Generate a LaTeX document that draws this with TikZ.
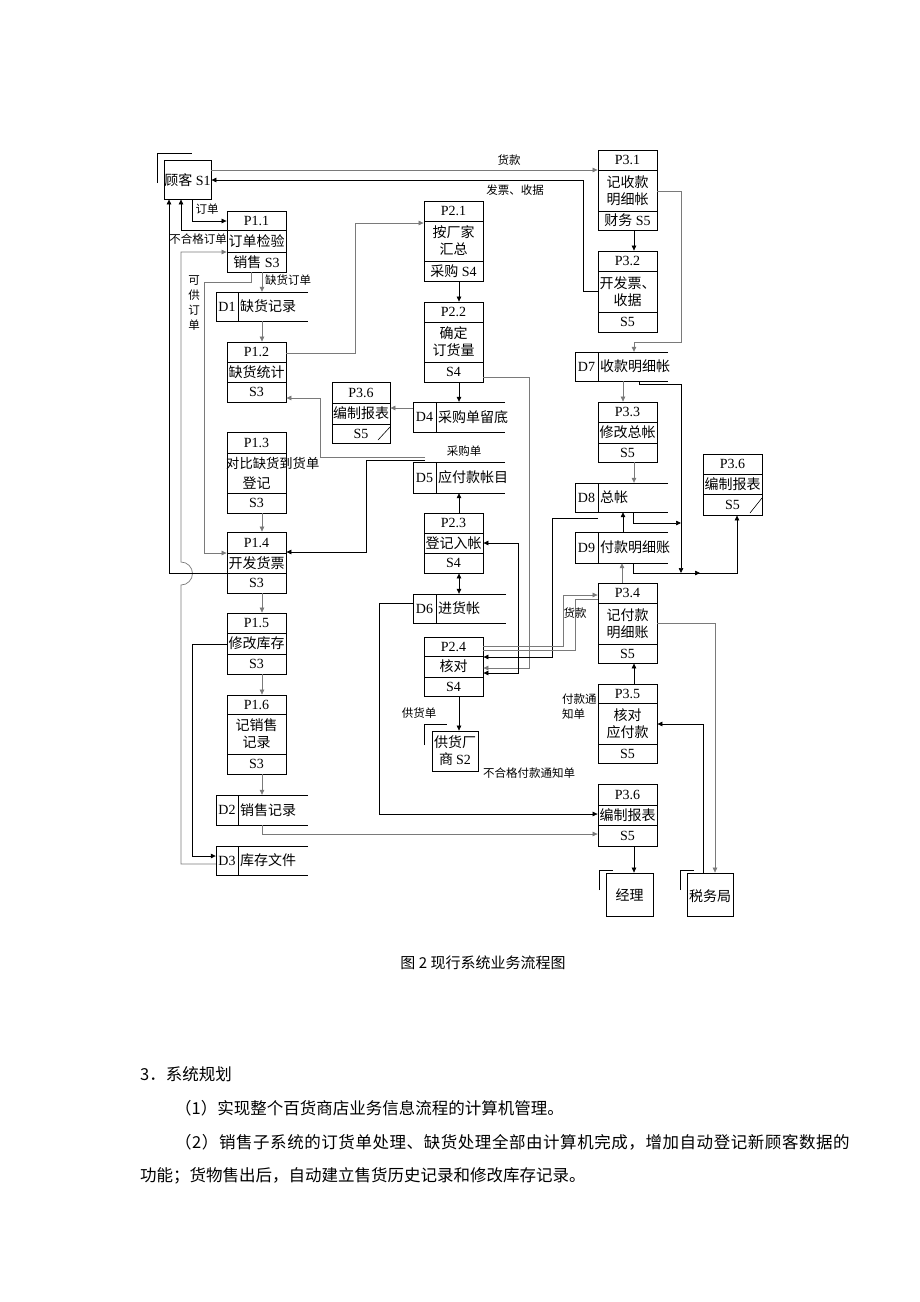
\documentclass[tikz,border=0pt]{standalone}
\usepackage{fontspec}
\setmainfont{Liberation Serif}
\newfontfamily\cjk{Noto Sans CJK SC}
\newfontfamily\cjkwide{Noto Sans CJK SC}[LetterSpace=3.4]
\usetikzlibrary{arrows.meta,fit}
\definecolor{gline}{HTML}{7A7A7A}
\newcommand\pbox[7]{%
  \gdef\pbn{#1}\gdef\pbxa{#2}\gdef\pbya{#3}\gdef\pbxb{#4}\gdef\pbyb{#5}\gdef\pbda{#6}\gdef\pbdb{#7}%
  \node[box,fit={(#2,#3)(#4,#5)}] (#1) {};
  \draw[line width=0.8pt] (#2,#6)--(#4,#6) (#2,#7)--(#4,#7);}
\newcommand\ptxt[3]{%
  \node[lat] (\pbn-a) at ({(\pbxa+\pbxb)/2},{(\pbya+\pbda)/2}) {#1};
  \node[txt] (\pbn-b) at ({(\pbxa+\pbxb)/2},{(\pbda+\pbdb)/2}) {#2};
  \node[lat] (\pbn-c) at ({(\pbxa+\pbxb)/2},{(\pbdb+\pbyb)/2}) {#3};}
\newcommand\dbox[8]{%
  \node[fit={(#2,#3)(#4,#5)},inner sep=0pt] (#1) {};
  \draw[line width=0.8pt] (#4,#3)--(#2,#3)--(#2,#5)--(#4,#5) (#6,#3)--(#6,#5);
  \node[lat] (#1-a) at ({(#2+#6)/2},{(#3+#5)/2}) {#7};
  \node[txt,anchor=west] (#1-b) at ({#6+2},{(#3+#5)/2}) {#8};}
\begin{document}
\begin{tikzpicture}[x=1pt,y=-1pt,>={Triangle[length=5pt,width=4.5pt]},
  con/.style={line width=0.7pt,draw=black},
  gcon/.style={line width=0.7pt,draw=gline},
  box/.style={draw=black,line width=0.8pt,inner sep=0pt},
  txt/.style={inner sep=0pt,align=center,font=\fontsize{14}{17}\selectfont\cjk},
  lat/.style={inner sep=0pt,font=\fontsize{14}{17}\selectfont},
  lab/.style={inner sep=0pt,align=center,font=\fontsize{11.5}{15}\selectfont\cjk},
  body/.style={inner sep=0pt,anchor=west,font=\fontsize{16.5}{20}\selectfont\cjk}]
\fill[white] (0,0) rectangle (920,1302);
\useasboundingbox (0,0) rectangle (920,1302);

% external entities
\node[box,fit={(164,160)(211,199)}] (s1) {};
\node[lat] (s1-t) at (187.5,180) {{\cjk 顾客} S1};
\draw[line width=0.8pt] (157,183)--(157,153)--(192,153);
\node[box,fit={(432,731)(478,771)}] (s2) {};
\node[txt] (s2-t) at (455,751) {供货厂\\商 {\fontspec{Liberation Serif}S2}};
\draw[line width=0.8pt] (424,745)--(424,724)--(447,724);
\node[box,fit={(606,873)(653,916)}] (jl) {};
\node[txt] (jl-t) at (629.5,895) {经理};
\draw[line width=0.8pt] (599,890)--(599,870)--(613,870);
\node[box,fit={(687,873)(733,916)}] (sw) {};
\node[txt] (sw-t) at (710,896) {税务局};
\draw[line width=0.8pt] (680,890)--(680,870)--(694,870);

% processes column 1
\pbox{p11}{227}{211}{286}{272}{230}{252}\ptxt{P1.1}{订单检验}{{\cjk 销售} S3}
\pbox{p12}{227}{342}{286}{402}{362}{382}\ptxt{P1.2}{缺货统计}{S3}
\pbox{p13}{227}{432}{286}{513}{453}{493}\ptxt{P1.3}{}{S3}
\node[txt,anchor=west,font=\fontsize{13.3}{16}\selectfont\cjk] (p13-m1) at (226,463) {对比缺货到货单};
\node[txt] (p13-m2) at (256.5,483) {登记};
\pbox{p14}{227}{532}{286}{593}{553}{573}\ptxt{P1.4}{开发货票}{S3}
\pbox{p15}{227}{613}{286}{674}{633}{654}\ptxt{P1.5}{修改库存}{S3}
\pbox{p16}{227}{695}{286}{774}{714}{754}\ptxt{P1.6}{记销售\\记录}{S3}
% column 2
\pbox{p21}{424}{201}{483}{281}{221}{261}\ptxt{P2.1}{按厂家\\汇总}{{\cjk 采购} S4}
\pbox{p22}{424}{302}{483}{382}{322}{362}\ptxt{P2.2}{确定\\订货量}{S4}
\pbox{p23}{424}{513}{483}{573}{533}{553}\ptxt{P2.3}{登记入帐}{S4}
\pbox{p24}{424}{637}{483}{696}{656}{677}\ptxt{P2.4}{核对}{S4}
\pbox{p36a}{332}{382}{390}{443}{403}{424}\ptxt{P3.6}{编制报表}{S5}
\draw[line width=0.6pt] (378,440)--(390,427);
% column 3
\pbox{p31}{598}{150}{657}{230}{170}{211}\ptxt{P3.1}{记收款\\明细帐}{{\cjk 财务} S5}
\pbox{p32}{598}{251}{657}{332}{271}{312}\ptxt{P3.2}{开发票、\\收据}{S5}
\pbox{p33}{598}{402}{657}{462}{422}{443}\ptxt{P3.3}{修改总帐}{S5}
\pbox{p34}{598}{583}{657}{663}{603}{644}\ptxt{P3.4}{记付款\\明细账}{S5}
\pbox{p35}{598}{684}{657}{763}{703}{744}\ptxt{P3.5}{核对\\应付款}{S5}
\pbox{p36c}{598}{784}{657}{846}{805}{825}\ptxt{P3.6}{编制报表}{S5}
\pbox{p36b}{703}{454}{762}{515}{474}{494}\ptxt{P3.6}{编制报表}{S5}
\draw[line width=0.6pt] (750,513)--(762,498);

% data stores
\dbox{d1}{216}{292}{308}{321}{238}{D1}{缺货记录}
\dbox{d2}{216}{795}{308}{825}{238}{D2}{销售记录}
\dbox{d3}{216}{846}{308}{875}{238}{D3}{库存文件}
\dbox{d4}{413}{402}{505}{432}{436}{D4}{采购单留底}
\dbox{d5}{413}{462}{505}{493}{436}{D5}{应付款帐目}
\dbox{d6}{413}{594}{506}{623}{436}{D6}{进货帐}
\dbox{d7}{575}{352}{668}{381}{598}{D7}{收款明细帐}
\dbox{d8}{575}{483}{668}{512}{598}{D8}{总帐}
\dbox{d9}{575}{532}{668}{563}{598}{D9}{付款明细账}

% free-end coordinates
\coordinate (d5a) at (425,457);
\coordinate (d5b) at (425,460);
\coordinate (d8a) at (598,518);

% connectors, top
\draw[gcon,->] (s1.east|-0,170) -- (p31.west|-0,170);
\draw[con,->] (p32.west|-0,291) -| (583,180) -- (s1.east|-0,180);
\draw[con,->] (s1.south -| 192,0) |- (p11.west|-0,221);
\draw[con,->] (p11.west|-0,230) -| (s1.south -| 181,0);
\draw[gcon,->] (d3.west|-0,864) -- (181,864) -- (181,585) arc[start angle=90,end angle=-90,radius=11.5] -- (181,252) -- (p11.west|-0,252);
\draw[con,->] (p14.west|-0,573) -| (s1.south -| 169,0);
\draw[gcon,->] (p11.south -| 251,0) |- (204,282) |- (p14.west|-0,553);
\draw[gcon,->] (p11.south -| 262,0) -- (d1.north -| 262,0);
\draw[gcon,->] (d1.south -| 262,0) -- (p12.north -| 262,0);
\draw[gcon,->] (p12.east|-0,353) -| (355,223) -- (p21.west|-0,223);
\draw[gcon,->] (d5a) -| (320,398) -- (p12.east|-0,398);
\draw[con,->] (d5b) -| (366,552) -- (p14.east|-0,552);
\draw[gcon,->] (p13.south -| 262,0) -- (p14.north -| 262,0);
\draw[gcon,->] (p14.south -| 262,0) -- (p15.north -| 262,0);
\draw[gcon,->] (p15.south -| 262,0) -- (p16.north -| 262,0);
\draw[gcon,->] (p16.south -| 262,0) -- (d2.north -| 262,0);
\draw[con,->] (p15.west|-0,644) -| (192,856) -- (d3.west|-0,856);
\draw[gcon,->] (d2.south -| 262,0) |- (p36c.west|-0,834);
% column 2
\draw[gcon,->] (d4.west|-0,408) -- (p36a.east|-0,408);
\draw[con,->] (p21.south -| 459,0) -- (p22.north -| 459,0);
\draw[con,->] (p22.south -| 459,0) -- (d4.north -| 459,0);
\draw[con,->] (p23.north -| 459,0) -- (d5.south -| 459,0);
\draw[con,<->] (p23.south -| 459,0) -- (d6.north -| 459,0);
\draw[con,->] (d6.west|-0,603) -| (379,814) -- (p36c.west|-0,814);
\draw[con,->] (p24.south -| 459,0) -- (s2.north -| 459,0);
\draw[gcon,->] (p22.east|-0,377) -| (529,668) -- (p24.east|-0,668);
\draw[con,<->] (p23.east|-0,543) -| (518,673) -- (p24.east|-0,673);
\draw[con,->] (d8a) -- (552,518) -- (552,657) -- (p24.east|-0,657);
\draw[gcon,->] (p24.east|-0,646) -| (563,595) -- (p34.west|-0,595);
\draw[gcon] (p24.east|-0,650) -| (575,599) -- (p34.west|-0,599);
% column 3
\draw[con,->] (p31.south -| 634,0) -- (p32.north -| 634,0);
\draw[gcon,->] (p31.east|-0,191) -| (681,342) -| (d7.north -| 634,0);
\draw[gcon,->] (d7.south -| 623,0) -- (p33.north -| 623,0);
\draw[gcon,->] (p33.south -| 634,0) -- (d8.north -| 634,0);
\draw[con,->] (d7.south -| 639,0) |- (681,384) -- (681,573);
\draw[con,->] (d8.south -| 633,0) |- (681,523);
\draw[con,->] (d9.south -| 633,0) |- (737,573) -- (p36b.south -| 737,0);
\draw[con,->] (681,573) -- (700,573);
\draw[con,->] (d9.north -| 623,0) -- (d8.south -| 623,0);
\draw[gcon,->] (p34.north -| 622,0) -- (d9.south -| 622,0);
\draw[gcon,->] (p34.east|-0,623) -| (sw.north -| 715,0);
\draw[con,->] (sw.north -| 703,0) |- (p35.east|-0,724);
\draw[con,->] (p35.north -| 634,0) -- (p34.south -| 634,0);
\draw[con,->] (p36c.south -| 634,0) -- (jl.north -| 634,0);

% labels
\node[lab] (l1) at (509,160) {货款};
\node[lab] (l2) at (515,190) {发票、收据};
\node[lab] (l3) at (207,209) {订单};
\node[lab] (l4) at (198,239) {不合格订单};
\node[lab] (l5) at (288,280) {缺货订单};
\node[lab] (l6) at (194,303) {可\\供\\订\\单};
\node[lab] (l7) at (464,451) {采购单};
\node[lab] (l8) at (419,713) {供货单};
\node[lab,anchor=west] (l9) at (483,773) {不合格付款通知单};
\node[lab] (l10) at (575,613) {货款};
\node[lab,anchor=west,align=left] (l11) at (562,707) {付款通\\知单};

% caption and body text
\node[inner sep=0pt,font=\fontsize{15}{18}\selectfont\cjk] (cap) at (483,963) {图 2 现行系统业务流程图};
\node[body] (t1) at (140,1074) {3．系统规划};
\node[body] (t2) at (175,1108) {（1）实现整个百货商店业务信息流程的计算机管理。};
\node[body,font=\fontsize{16.5}{20}\selectfont\cjkwide] (t3) at (175,1142) {（2）销售子系统的订货单处理、缺货处理全部由计算机完成，增加自动登记新顾客数据的};
\node[body] (t4) at (140,1176) {功能；货物售出后，自动建立售货历史记录和修改库存记录。};
\end{tikzpicture}
\end{document}
